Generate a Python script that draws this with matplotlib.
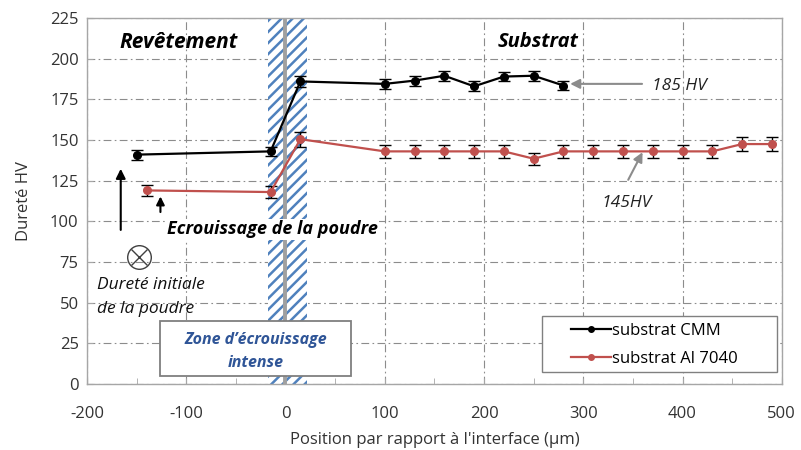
import matplotlib
matplotlib.use("Agg")
import matplotlib.pyplot as plt
from matplotlib.patches import Rectangle
from matplotlib.lines import Line2D

plt.rcParams['font.family'] = ['Open Sans', 'DejaVu Sans']
plt.rcParams['hatch.linewidth'] = 1.8
plt.rcParams['axes.unicode_minus'] = False

# Data
cmm_x = [-150, -15, 15, 100, 130, 160, 190, 220, 250, 280]
cmm_y = [141, 143, 186, 184.5, 186.5, 189.5, 183, 189, 189.5, 183.5]
cmm_err = [3, 3, 3.2, 3, 3, 3, 3, 3, 3, 3]

al_x = [-140, -15, 15, 100, 130, 160, 190, 220, 250, 280, 310, 340, 370, 400, 430, 460, 490]
al_y = [119, 118, 150.5, 143, 143, 143, 143, 143, 138.5, 143, 143, 143, 143, 143, 143, 147.5, 147.5]
al_err = [3.6, 3.6, 4.6, 3.8, 3.8, 3.8, 3.8, 3.8, 3.8, 3.8, 3.8, 3.8, 3.8, 3.8, 3.8, 4.3, 4.3]

series_names = ["substrat CMM", "substrat Al 7040"]
series_colors = ["black", "#c0504d"]
xlabel = "Position par rapport à l'interface (µm)"
ylabel = "Dureté HV"

fig = plt.figure(figsize=(8.01, 4.5), dpi=100)
ax = fig.add_axes([0.1086, 0.1467, 0.8674, 0.8133])

ax.set_xlim(-200, 500)
ax.set_ylim(0, 225)
ax.set_xticks(range(-200, 501, 100))
ax.set_xticks(range(-150, 500, 100), minor=True)
ax.set_yticks(range(0, 226, 25))

grid_ls = (0, (7, 3, 1.5, 3))
ax.grid(True, which='major', color='#8c8c8c', linestyle=grid_ls, linewidth=0.8)
ax.set_axisbelow(True)

for s in ax.spines.values():
    s.set_color('#a6a6a6')
    s.set_linewidth(1.0)

ax.tick_params(axis='both', which='both', direction='in', colors='#a6a6a6',
               labelcolor='#333333', labelsize=12, length=4)
ax.tick_params(axis='x', pad=16)
ax.tick_params(axis='y', pad=6)

# Hatched zone
ax.add_patch(Rectangle((-18, 0), 40, 225, facecolor='white', edgecolor='#4f81bd',
                       hatch='///', linewidth=0, zorder=1.5))
ax.axvline(0, color='#a0a0a0', linewidth=2.8, zorder=1.6)

# Series
ax.errorbar(cmm_x, cmm_y, yerr=cmm_err, color=series_colors[0], marker='o', markersize=5.5,
            linewidth=1.6, ecolor='black', elinewidth=1.0, capsize=4, capthick=1.0, zorder=4)
ax.errorbar(al_x, al_y, yerr=al_err, color=series_colors[1], marker='o', markersize=5.5,
            linewidth=1.6, ecolor='black', elinewidth=1.0, capsize=4, capthick=1.0, zorder=3)

# Annotations
ax.text(-108, 210, "Revêtement", fontsize=15, fontweight='bold', style='italic',
        ha='center', va='center', color='black')
ax.text(254, 210, "Substrat", fontsize=14.5, fontweight='bold', style='italic',
        ha='center', va='center', color='black')
ax.text(-13, 95, "Ecrouissage de la poudre", fontsize=13, fontweight='bold', style='italic',
        ha='center', va='center', color='black', zorder=5,
        bbox=dict(facecolor='white', edgecolor='none', pad=1))

ax.annotate("", xy=(284, 184.5), xytext=(362, 184.5),
            arrowprops=dict(arrowstyle='-|>', color='#8c8c8c', lw=1.5, mutation_scale=14))
ax.text(369, 183.5, "185 HV", fontsize=12.5, style='italic', ha='left', va='center', color='#222222')

ax.annotate("", xy=(361, 144), xytext=(344, 124),
            arrowprops=dict(arrowstyle='-|>', color='#8c8c8c', lw=1.5, mutation_scale=14))
ax.text(344, 111, "145HV", fontsize=12.5, style='italic', ha='center', va='center', color='#222222')

ax.annotate("", xy=(-166, 134), xytext=(-166, 93),
            arrowprops=dict(arrowstyle='-|>', color='black', lw=1.5, mutation_scale=14))
ax.annotate("", xy=(-126, 117), xytext=(-126, 104),
            arrowprops=dict(arrowstyle='-|>', color='black', lw=1.5, mutation_scale=12))

ax.plot([-148], [78], marker='o', markersize=17, markerfacecolor='none',
        markeredgecolor='#404040', markeredgewidth=1.0, linestyle='none', zorder=5)
ax.plot([-148], [78], marker='x', markersize=11.5, markeredgecolor='#404040',
        markeredgewidth=1.0, linestyle='none', zorder=5)

ax.text(-190, 53.5, "Dureté initiale\nde la poudre", fontsize=12.5, style='italic',
        ha='left', va='center', color='#111111', linespacing=1.7)

ax.add_patch(Rectangle((-126.5, 5), 192.5, 33.5, facecolor='white', edgecolor='#7f7f7f',
                       linewidth=1.3, zorder=6))
ax.text(-30, 20, "Zone d\u2019écrouissage\nintense", fontsize=11.5, fontweight='bold',
        style='italic', ha='center', va='center', color='#2f5597', zorder=7, linespacing=1.55)

# Legend (frame drawn separately)
ax.add_patch(Rectangle((0.655, 0.033), 0.338, 0.153, transform=ax.transAxes,
                       facecolor='white', edgecolor='#808080', linewidth=1.0, zorder=8))
handles = [Line2D([], [], color=c, marker='o', markersize=4, linewidth=1.6) for c in series_colors]
leg = ax.legend(handles, series_names, loc='center left', bbox_to_anchor=(0.696, 0.107),
                fontsize=12, frameon=False, handlelength=2.4, handletextpad=0.1,
                borderpad=0, labelspacing=0.7, borderaxespad=0)
leg.set_zorder(9)

ax.set_xlabel(xlabel, fontsize=12, color='#333333')
ax.xaxis.set_label_coords(0.5, -0.13)
ax.set_ylabel(ylabel, fontsize=12, color='#333333', labelpad=13)

fig.savefig("out.png", dpi=100)
